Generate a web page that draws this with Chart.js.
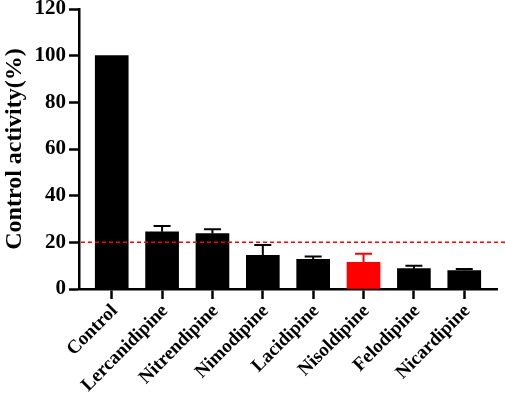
<!DOCTYPE html>
<html>
<head>
<meta charset="utf-8">
<script src="https://cdn.jsdelivr.net/npm/chart.js@4.4.1/dist/chart.umd.min.js"></script>
<style>
html,body{margin:0;padding:0;background:#fff;}
#wrap{width:505px;height:397px;position:relative;}
</style>
</head>
<body>
<div id="wrap"><canvas id="c" width="505" height="397"></canvas></div>
<script>
const categories = ["Control","Lercanidipine","Nitrendipine","Nimodipine","Lacidipine","Nisoldipine","Felodipine","Nicardipine"];
const meanValues = [100, 24.5, 23.7, 14.4, 12.7, 11.4, 8.7, 7.9];
const errorValues = [0, 2.5, 1.9, 4.5, 1.2, 3.7, 1.3, 0.7];
const barColors = ["#000000","#000000","#000000","#000000","#000000","#ff0000","#000000","#000000"];
const yTicks = [0, 20, 40, 60, 80, 100, 120];
const thresholdValue = 20;

const serif = "'Liberation Serif', 'Times New Roman', serif";

const errorBarPlugin = {
  id: 'errorBars',
  afterDatasetsDraw(chart) {
    const ctx = chart.ctx;
    const meta = chart.getDatasetMeta(0);
    const y = chart.scales.y;
    ctx.save();
    meta.data.forEach((bar, i) => {
      const e = errorValues[i];
      if (!e) return;
      const top = y.getPixelForValue(meanValues[i] + e);
      const base = y.getPixelForValue(meanValues[i]);
      ctx.strokeStyle = barColors[i];
      ctx.lineWidth = 2;
      ctx.beginPath();
      ctx.moveTo(bar.x, base);
      ctx.lineTo(bar.x, top);
      ctx.moveTo(bar.x - 8.5, top);
      ctx.lineTo(bar.x + 8.5, top);
      ctx.stroke();
    });
    const ty = y.getPixelForValue(thresholdValue);
    ctx.strokeStyle = '#ff0000';
    ctx.lineWidth = 1.5;
    ctx.setLineDash([4, 3]);
    ctx.beginPath();
    ctx.moveTo(chart.chartArea.left + 2, ty);
    ctx.lineTo(chart.width, ty);
    ctx.stroke();
    ctx.restore();
  }
};

new Chart(document.getElementById('c'), {
  type: 'bar',
  data: {
    labels: categories,
    datasets: [{
      data: meanValues.map((v, i) => ({x: i, y: v})),
      backgroundColor: barColors,
      borderWidth: 0,
      barThickness: 33
    }]
  },
  options: {
    responsive: false,
    animation: false,
    plugins: { legend: { display: false }, tooltip: { enabled: false } },
    layout: { padding: { top: 0, right: 8, left: 0, bottom: 0 } },
    scales: {
      x: {
        type: 'linear',
        offset: false,
        min: -0.65,
        max: 7.65,
        afterBuildTicks(scale) {
          scale.ticks = categories.map((c, i) => ({ value: i }));
        },
        afterFit(scale) {
          scale.height = 108;
          scale.paddingLeft = 0;
          scale.paddingRight = 0;
        },
        ticks: {
          autoSkip: false,
          maxRotation: 45,
          minRotation: 45,
          color: '#000',
          padding: 1,
          labelOffset: 3,
          font: { family: serif, weight: 'bold', size: 19 },
          callback: (v) => categories[v]
        },
        grid: {
          offset: false,
          drawOnChartArea: false,
          drawTicks: true,
          tickLength: 10,
          tickWidth: 2.5,
          tickColor: '#000'
        },
        border: { display: true, color: '#000', width: 2.5 }
      },
      y: {
        min: 0,
        max: 120,
        afterBuildTicks(scale) {
          scale.ticks = yTicks.map(v => ({ value: v }));
        },
        afterFit(scale) {
          scale.width = 79;
          scale.paddingTop = 9;
          scale.paddingBottom = 0;
        },
        ticks: {
          color: '#000',
          padding: 3,
          font: { family: serif, weight: 'bold', size: 21 }
        },
        grid: {
          drawOnChartArea: false,
          drawTicks: true,
          tickLength: 10,
          tickWidth: 2.5,
          tickColor: '#000'
        },
        border: { display: true, color: '#000', width: 2.5 },
        title: {
          display: true,
          text: 'Control activity(%)',
          color: '#000',
          padding: { top: 0, bottom: 2 },
          font: { family: serif, weight: 'bold', size: 24 }
        }
      }
    }
  },
  plugins: [errorBarPlugin]
});
</script>
</body>
</html>
